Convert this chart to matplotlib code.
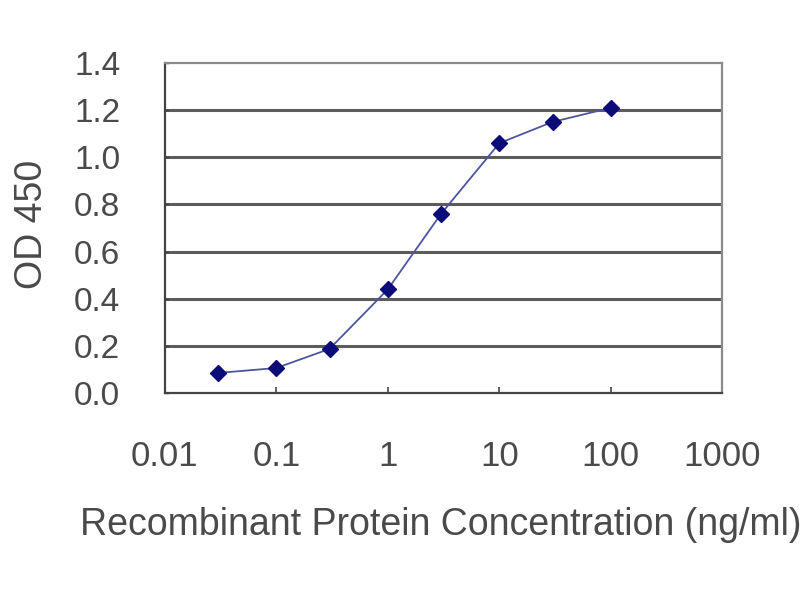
import matplotlib
matplotlib.use("Agg")
import matplotlib.pyplot as plt
from matplotlib.ticker import FixedLocator, NullLocator

# ELISA standard curve values
concentration = [0.03, 0.1, 0.3, 1, 3, 10, 30, 100]
od450 = [0.085, 0.106, 0.187, 0.44, 0.76, 1.06, 1.15, 1.21]

x_ticks = [0.01, 0.1, 1, 10, 100, 1000]
x_tick_labels = ["0.01", "0.1", "1", "10", "100", "1000"]
y_ticks = [0.0, 0.2, 0.4, 0.6, 0.8, 1.0, 1.2, 1.4]
y_tick_labels = [f"{v:.1f}" for v in y_ticks]

TEXT_COLOR = "#4a4a4a"
GRID_COLOR = "#5c5c5c"
LINE_COLOR = "#4b55a0"
MARKER_COLOR = "#0c0c78"

plt.rcParams["font.family"] = ["Liberation Sans", "DejaVu Sans"]

fig = plt.figure(figsize=(8, 6), dpi=100)
ax = fig.add_axes([0.206, 0.345, 0.697, 0.550])

ax.set_xscale("log")
ax.set_xlim(0.01, 1000)
ax.set_ylim(0, 1.4)

ax.plot(concentration, od450, color=LINE_COLOR, lw=1.3, zorder=3)
ax.plot(concentration, od450, ls="none", marker="D", markersize=8,
        color=MARKER_COLOR, zorder=4)

# horizontal gridlines
for v in y_ticks[1:-1]:
    ax.axhline(v, color=GRID_COLOR, lw=2.2, zorder=1)

ax.xaxis.set_major_locator(FixedLocator(x_ticks))
ax.xaxis.set_minor_locator(NullLocator())
ax.set_xticklabels(x_tick_labels)
ax.set_yticks(y_ticks)
ax.set_yticklabels(y_tick_labels)

ax.tick_params(axis="x", direction="in", length=4, width=1.2, color="#444444",
               pad=34, labelsize=25, labelcolor=TEXT_COLOR)
ax.tick_params(axis="y", direction="in", length=3, width=1, color="#444444",
               pad=32, labelsize=24, labelcolor=TEXT_COLOR)

for side in ("left", "bottom"):
    ax.spines[side].set_color("#444444")
    ax.spines[side].set_linewidth(1.6)
for side in ("top", "right"):
    ax.spines[side].set_color("#8a8a8a")
    ax.spines[side].set_linewidth(1.6)

ax.set_ylabel("OD 450", fontsize=27, color=TEXT_COLOR)
ax.yaxis.set_label_coords(-0.205, 0.51)
ax.set_xlabel("Recombinant Protein Concentration (ng/ml)", fontsize=27,
              color=TEXT_COLOR)
ax.xaxis.set_label_coords(0.495, -0.345)

fig.savefig("out.png", dpi=100)
